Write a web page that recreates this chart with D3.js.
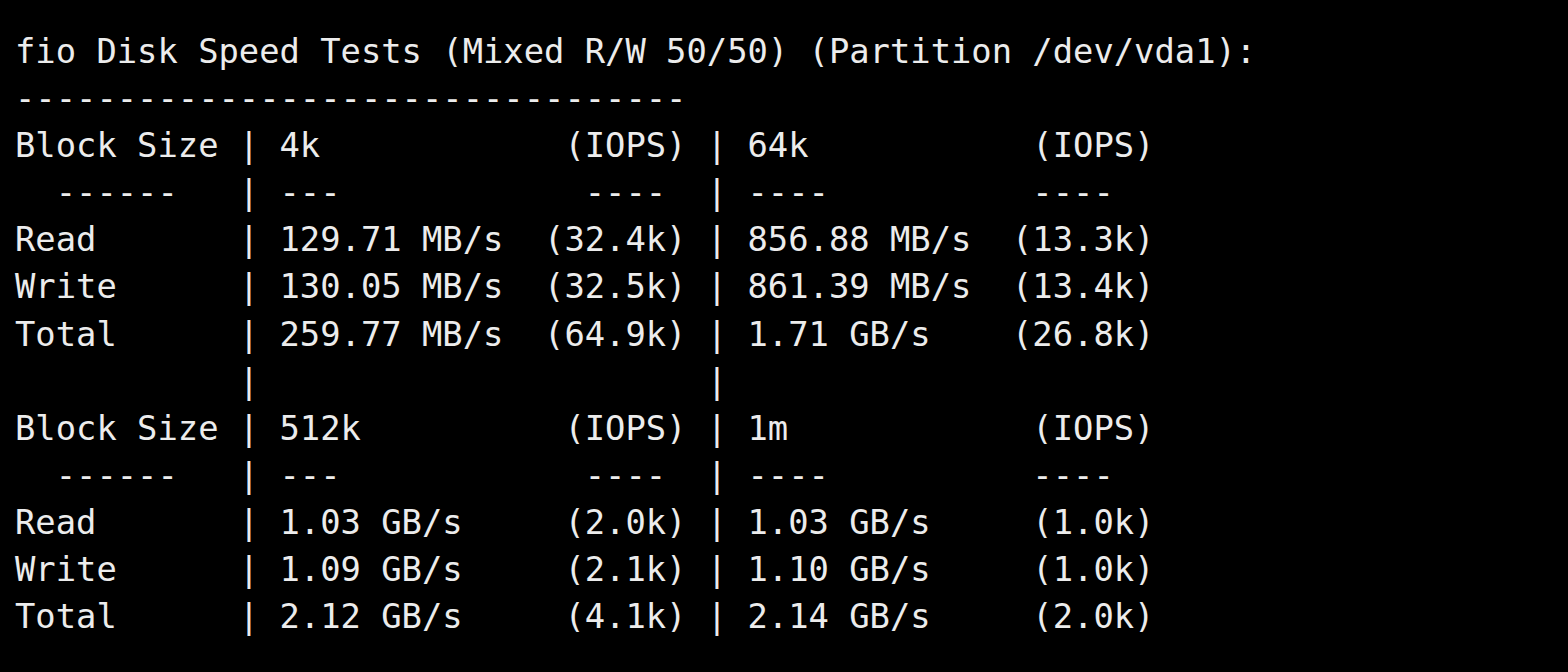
<!DOCTYPE html>
<html lang="en">
<head>
<meta charset="UTF-8">
<title>fio Disk Speed Tests</title>
<script src="https://d3js.org/d3.v7.min.js"></script>
<style>
  html, body { margin: 0; padding: 0; background: #000; }
  .line { font-family: "DejaVu Sans Mono", "Liberation Mono", monospace; font-size: 33.8px; fill: #ececec; white-space: pre; }
</style>
</head>
<body>
<svg id="term" width="1568" height="672"></svg>
<script>
// data
var title = "fio Disk Speed Tests (Mixed R/W 50/50) (Partition /dev/vda1):";
var blockSizes = [["4k", "64k"], ["512k", "1m"]];
var rowLabels = ["Read", "Write", "Total"];
var speeds = [
  [["129.71 MB/s", "856.88 MB/s"], ["130.05 MB/s", "861.39 MB/s"], ["259.77 MB/s", "1.71 GB/s"]],
  [["1.03 GB/s", "1.03 GB/s"], ["1.09 GB/s", "1.10 GB/s"], ["2.12 GB/s", "2.14 GB/s"]]
];
var iops = [
  [["(32.4k)", "(13.3k)"], ["(32.5k)", "(13.4k)"], ["(64.9k)", "(26.8k)"]],
  [["(2.0k)", "(1.0k)"], ["(2.1k)", "(1.0k)"], ["(4.1k)", "(2.0k)"]]
];

function cell(left, right) { return left.padEnd(20 - right.length) + right; }
function row(label, a, b) { return label.padEnd(11) + "| " + a + " | " + b; }

var lines = [title, "-".repeat(33)];
blockSizes.forEach(function(bs, g) {
  if (g > 0) lines.push(" ".repeat(11) + "|" + " ".repeat(22) + "|");
  lines.push(row("Block Size", cell(bs[0], "(IOPS)"), cell(bs[1], "(IOPS)")));
  lines.push(row("  ------", "---".padEnd(15) + "---- ", "----".padEnd(14) + "---- "));
  rowLabels.forEach(function(l, i) {
    lines.push(row(l, cell(speeds[g][i][0], iops[g][i][0]), cell(speeds[g][i][1], iops[g][i][1])));
  });
});

var y = d3.scaleLinear().domain([0, lines.length - 1]).range([63, 628]);

d3.select("#term").selectAll("text.line")
  .data(lines)
  .enter().append("text")
  .attr("class", "line")
  .attr("x", 15)
  .attr("y", function(d, i) { return y(i); })
  .attr("xml:space", "preserve")
  .text(function(d) { return d; });
</script>
</body>
</html>
